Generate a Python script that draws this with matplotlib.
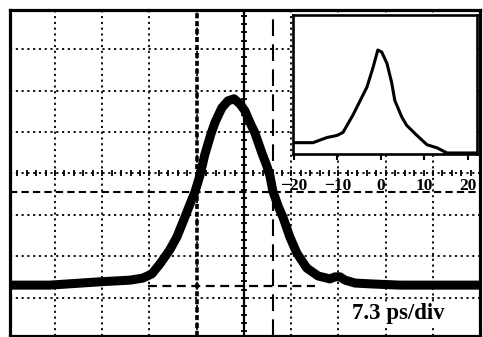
import numpy as np
import matplotlib
matplotlib.use("Agg")
import matplotlib.pyplot as plt

# ---- data (screen divisions: x 0..10, y 0..8) ----
trace_x = [0.05, 0.89, 1.95, 2.59, 2.86, 3.05, 3.22, 3.43, 3.58, 3.75, 3.86, 3.96,
           4.07, 4.17, 4.30, 4.39, 4.53, 4.66, 4.79, 4.92, 5.02, 5.13, 5.23, 5.38,
           5.49, 5.55, 5.61, 5.72, 5.83, 5.97, 6.12, 6.33, 6.57, 6.82, 6.93, 7.03,
           7.14, 7.35, 7.67, 8.30, 9.99]
trace_y = [1.31, 1.31, 1.39, 1.43, 1.48, 1.58, 1.82, 2.16, 2.47, 2.95, 3.27, 3.55,
           3.96, 4.45, 4.95, 5.24, 5.58, 5.75, 5.80, 5.67, 5.51, 5.22, 4.98, 4.49,
           4.16, 3.94, 3.58, 3.22, 2.93, 2.47, 2.08, 1.72, 1.53, 1.46, 1.51, 1.51,
           1.43, 1.36, 1.34, 1.31, 1.31]

half_max_level = 3.55
fwhm_left = 4.0
fwhm_right = 5.61
base_level = 1.29
base_span = [2.97, 6.5]

inset_x = [-19.8, -15.6, -12.4, -10.1, -8.7, -6.4, -3.2, -1.8, -0.7, 0.2, 1.4,
           2.5, 3.2, 4.8, 5.9, 8.3, 10.6, 12.9, 15.2, 19.8, 22.0]
inset_y = [0.10, 0.10, 0.15, 0.17, 0.20, 0.37, 0.64, 0.83, 1.00, 0.98, 0.87,
           0.68, 0.51, 0.35, 0.27, 0.17, 0.08, 0.05, 0.00, 0.00, 0.00]
inset_ticks = [-20, -10, 0, 10, 20]
scale_label = "7.3 ps/div"

W, H = 483, 337
fig = plt.figure(figsize=(W / 100, H / 100), dpi=100)
fig.patch.set_facecolor("white")

ax = fig.add_axes([10 / W, 1 / H, 470 / W, 326 / H])
ax.set_xlim(0.048, 9.995)
ax.set_ylim(0.084, 7.94)
ax.set_xticks([])
ax.set_yticks([])
for s in ax.spines.values():
    s.set_linewidth(2.3)
    s.set_color("black")

# graticule
for gx in range(1, 10):
    ax.axvline(gx, color="black", lw=1.3, ls=(0, (1.2, 2.0)), zorder=1)
for gy in range(1, 8):
    ax.axhline(gy, color="black", lw=1.3, ls=(0, (1.2, 2.0)), zorder=1)
# centre-line minor ticks
cx = np.arange(0.2, 10.0, 0.2)
ax.plot(cx, np.full_like(cx, 4.0), ls="none", marker="|", ms=5, mew=1.3,
        color="black", zorder=1)
cy = np.arange(0.2, 8.0, 0.2)
ax.plot(np.full_like(cy, 5.0), cy, ls="none", marker="_", ms=5, mew=1.3,
        color="black", zorder=1)
ax.axvline(5.0, color="black", lw=1.6, zorder=1)

# FWHM markers
ax.axhline(half_max_level, color="black", lw=1.5, ls=(0, (3.5, 2)), zorder=2)
ax.axvline(fwhm_right, color="black", lw=1.5, ls=(0, (8, 4)), zorder=2)
ax.axvline(fwhm_left, color="black", lw=2.6, ls=(0, (1.4, 0.8)), zorder=2)
ax.plot(base_span, [base_level, base_level], color="black", lw=1.6,
        ls=(0, (4, 2.5)), zorder=2)

# trace
ax.plot(trace_x, trace_y, color="black", lw=6.5, solid_capstyle="butt",
        solid_joinstyle="round", zorder=3)

fig.text(352 / W, (H - 319) / H, scale_label, fontsize=16.5, fontweight="bold",
         family="Liberation Serif", va="baseline", ha="left",
         bbox=dict(facecolor="white", edgecolor="none", pad=1), zorder=5)

# inset
ia = fig.add_axes([293 / W, (H - 154) / H, 184 / W, 139 / H])
ia.set_facecolor("white")
ia.set_xlim(-20.2, 22.1)
ia.set_ylim(-0.01, 1.34)
ia.plot(inset_x, inset_y, color="black", lw=2.2)
ia.set_yticks([])
ia.set_xticks(inset_ticks)
ia.set_xticklabels([str(t) if t >= 0 else "\u2212" + str(-t) for t in inset_ticks],
                   fontsize=12.5, fontweight="bold", family="Liberation Serif")
ia.tick_params(axis="x", direction="out", length=4, width=1.5, pad=13)
for s in ia.spines.values():
    s.set_linewidth(1.9)

fig.savefig("out.png", dpi=100, facecolor="white")
